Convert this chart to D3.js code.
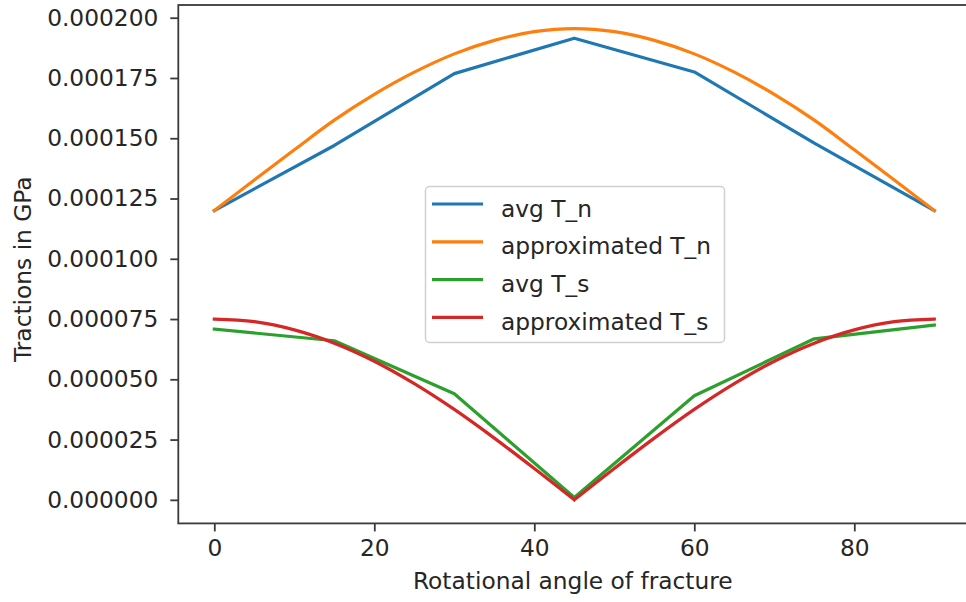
<!DOCTYPE html>
<html>
<head>
<meta charset="utf-8">
<script src="https://cdn.jsdelivr.net/npm/d3@7"></script>
<style>
  html, body { margin: 0; padding: 0; background: #fff; }
  svg { display: block; }
  text { font-family: "DejaVu Sans", sans-serif; fill: #262626; }
</style>
</head>
<body>
<svg id="chart" width="966" height="602"></svg>
<script>
// Rotation angles (degrees) at which the averaged tractions were sampled
const angles = [0, 15, 30, 45, 60, 75, 90];
// Averaged normal and shear tractions (GPa)
const avgTn = [0.000120, 0.000147, 0.0001768, 0.0001915, 0.0001775, 0.000148, 0.000120];
const avgTs = [0.0000708, 0.0000660, 0.0000440, 0.0000010, 0.0000432, 0.0000668, 0.0000725];

// Finer angle grid for the approximated curves
const fineAngles = [0, 5, 10, 15, 20, 25, 30, 35, 40, 45, 50, 55, 60, 65, 70, 75, 80, 85, 90];
const approxTn = [0.000120, 0.0001327, 0.0001452, 0.0001575, 0.0001682, 0.0001774, 0.000185,
                  0.0001906, 0.0001942, 0.0001955, 0.0001942, 0.0001906, 0.000185, 0.0001774,
                  0.0001682, 0.0001575, 0.0001452, 0.0001327, 0.000120];
const approxTs = [0.000075, 0.0000739, 0.0000705, 0.000065, 0.0000575, 0.0000482, 0.0000375,
                  0.0000256, 0.000013, 0.000000, 0.000013, 0.0000256, 0.0000375, 0.0000482,
                  0.0000575, 0.000065, 0.0000705, 0.0000739, 0.000075];

// Tick values
const xTicks = [0, 20, 40, 60, 80];
const yTicks = [0, 0.000025, 0.00005, 0.000075, 0.0001, 0.000125, 0.00015, 0.000175, 0.0002];

const seriesNames = ["avg T_n", "approximated T_n", "avg T_s", "approximated T_s"];
const seriesColors = ["#1f77b4", "#ff7f0e", "#2ca02c", "#d62728"];

// "breakAt" splits a smooth curve where it has a sharp corner
const series = [
  { name: seriesNames[0], color: seriesColors[0], xs: angles, ys: avgTn, smooth: false },
  { name: seriesNames[1], color: seriesColors[1], xs: fineAngles, ys: approxTn, smooth: true },
  { name: seriesNames[2], color: seriesColors[2], xs: angles, ys: avgTs, smooth: false },
  { name: seriesNames[3], color: seriesColors[3], xs: fineAngles, ys: approxTs, smooth: true, breakAt: 45 }
];

// Plot area
const plotLeft = 178.3, plotRight = 970.3, plotTop = 5, plotBottom = 523.4;

// Axis limits padded by 5% of the data span on each side
function padded(vals) {
  const [lo, hi] = d3.extent(vals);
  const m = (hi - lo) * 0.05;
  return [lo - m, hi + m];
}
const allX = angles.concat(fineAngles);
const allY = avgTn.concat(avgTs, approxTn, approxTs);

const x = d3.scaleLinear().domain(padded(allX)).range([plotLeft, plotRight]);
const y = d3.scaleLinear().domain(padded(allY)).range([plotBottom, plotTop]);

const svg = d3.select("#chart");
const fontSize = 23.3;
const axisColor = "#3a3a3a";
const lineWidth = 3.2;

svg.append("defs").append("clipPath").attr("id", "plot-clip")
  .append("rect").attr("x", plotLeft).attr("y", plotTop)
  .attr("width", plotRight - plotLeft).attr("height", plotBottom - plotTop);

// Data lines
const plot = svg.append("g").attr("clip-path", "url(#plot-clip)");
series.forEach(s => {
  const pts = s.xs.map((a, i) => [a, s.ys[i]]);
  const pieces = s.breakAt === undefined
    ? [pts]
    : [pts.filter(p => p[0] <= s.breakAt), pts.filter(p => p[0] >= s.breakAt)];
  const line = d3.line()
    .x(d => x(d[0])).y(d => y(d[1]))
    .curve(s.smooth ? d3.curveCatmullRom.alpha(0.5) : d3.curveLinear);
  plot.append("path")
    .attr("d", pieces.map(p => line(p)).join(""))
    .attr("fill", "none")
    .attr("stroke", s.color)
    .attr("stroke-width", lineWidth)
    .attr("stroke-linejoin", "round")
    .attr("stroke-linecap", "square");
});

// X axis
const xAxis = d3.axisBottom(x).tickValues(xTicks).tickSize(8).tickPadding(8)
  .tickFormat(d3.format("d"));
const gx = svg.append("g").attr("transform", `translate(0,${plotBottom})`).call(xAxis);

// Y axis
const yAxis = d3.axisLeft(y).tickValues(yTicks).tickSize(8).tickPadding(12)
  .tickFormat(d3.format(".6f"));
const gy = svg.append("g").attr("transform", `translate(${plotLeft},0)`).call(yAxis);

[gx, gy].forEach(g => {
  g.select(".domain").remove();
  g.selectAll(".tick line").attr("stroke", axisColor).attr("stroke-width", 1.8);
  g.selectAll(".tick text").attr("font-size", fontSize).attr("fill", "#262626")
    .style("font-family", "'DejaVu Sans', sans-serif");
});

// Spines
const spines = svg.append("g").attr("fill", "none").attr("stroke", axisColor).attr("stroke-width", 1.8);
spines.append("rect")
  .attr("x", plotLeft).attr("y", plotTop)
  .attr("width", plotRight - plotLeft).attr("height", plotBottom - plotTop);

// Axis titles
svg.append("text")
  .attr("x", (plotLeft + plotRight) / 2 - 1.5)
  .attr("y", 589)
  .attr("text-anchor", "middle")
  .attr("font-size", fontSize)
  .text("Rotational angle of fracture");

svg.append("text")
  .attr("transform", `translate(31,${(plotTop + plotBottom) / 2 + 5}) rotate(-90)`)
  .attr("text-anchor", "middle")
  .attr("font-size", fontSize)
  .text("Tractions in GPa");

// Legend
const legend = svg.append("g");
legend.append("rect")
  .attr("x", 425.5).attr("y", 186.5)
  .attr("width", 299).attr("height", 156)
  .attr("rx", 4).attr("ry", 4)
  .attr("fill", "#fff").attr("fill-opacity", 0.8)
  .attr("stroke", "#d0d0d0").attr("stroke-width", 1.5);

series.forEach((s, i) => {
  const cy = 204 + i * 37.8;
  legend.append("line")
    .attr("x1", 432).attr("x2", 483)
    .attr("y1", cy).attr("y2", cy)
    .attr("stroke", s.color).attr("stroke-width", lineWidth);
  legend.append("text")
    .attr("x", 501)
    .attr("y", cy + 12.5)
    .attr("font-size", fontSize)
    .text(s.name);
});
</script>
</body>
</html>
